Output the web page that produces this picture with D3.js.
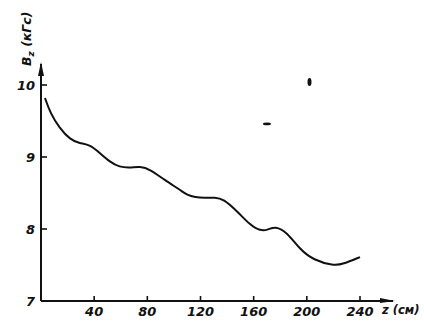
<!DOCTYPE html>
<html><head><meta charset="utf-8">
<script src="https://cdn.jsdelivr.net/npm/d3@7"></script>
<style>body{margin:0;background:#fff}svg{display:block}</style>
</head><body>
<script>
const zValues = [3, 7, 14, 22, 29, 37, 44, 52, 59, 67, 74.5, 82, 93, 105, 110, 116, 123, 131, 137, 148, 157, 165, 171, 176, 185, 195, 205, 220, 227, 240];
const bValues = [9.82, 9.61, 9.40, 9.24, 9.19, 9.17, 9.06, 8.93, 8.86, 8.85, 8.87, 8.83, 8.68, 8.54, 8.47, 8.44, 8.43, 8.44, 8.42, 8.24, 8.06, 7.97, 7.99, 8.04, 7.96, 7.71, 7.57, 7.49, 7.51, 7.61];
const xTicks = [40, 80, 120, 160, 200, 240];
const yTicks = [7, 8, 9, 10];
const speckZ = [202, 170];
const speckB = [10.04, 9.46];

const W = 424, H = 321;
const svg = d3.select("body").append("svg").attr("width", W).attr("height", H);
const x = d3.scaleLinear().domain([0, 240]).range([41, 360]);
const y = d3.scaleLinear().domain([7, 10]).range([301, 85]);

const ink = "#111";
const g = svg.append("g");

// axes lines
g.append("line").attr("x1", x(0)).attr("x2", 393).attr("y1", y(7)).attr("y2", y(7))
  .attr("stroke", ink).attr("stroke-width", 2);
g.append("line").attr("x1", x(0)).attr("x2", x(0)).attr("y1", y(7)).attr("y2", 64)
  .attr("stroke", ink).attr("stroke-width", 2);
// arrows
g.append("path").attr("d", `M${x(0)},62 L${x(0)-3},76 L${x(0)+3},76 Z`).attr("fill", ink);
g.append("path").attr("d", `M395,${y(7)} L380,${y(7)-3} L380,${y(7)+2} Z`).attr("fill", ink);

// x ticks
g.selectAll(".xt").data(xTicks).join("line")
  .attr("x1", d => x(d)).attr("x2", d => x(d)).attr("y1", y(7)).attr("y2", y(7) - 5)
  .attr("stroke", ink).attr("stroke-width", 1.6);
g.selectAll(".xl").data(xTicks).join("text")
  .attr("x", d => x(d)).attr("y", 316).attr("text-anchor", "middle")
  .attr("font-family", "DejaVu Sans").attr("font-style", "italic").attr("font-weight", "bold").attr("font-size", 13)
  .attr("fill", ink).text(d => d);

// y ticks
g.selectAll(".yt").data(yTicks.filter(d => d > 7)).join("line")
  .attr("x1", x(0)).attr("x2", x(0) + 6).attr("y1", d => y(d)).attr("y2", d => y(d))
  .attr("stroke", ink).attr("stroke-width", 1.6);
g.selectAll(".yl").data(yTicks).join("text")
  .attr("x", 35).attr("y", d => y(d) + 5).attr("text-anchor", "end")
  .attr("font-family", "DejaVu Sans").attr("font-style", "italic").attr("font-weight", "bold").attr("font-size", 13)
  .attr("fill", ink).text(d => d);

// axis labels
const yl = svg.append("text").attr("transform", "translate(31,66) rotate(-90)")
  .attr("font-family", "DejaVu Sans").attr("font-style", "italic").attr("font-weight", "bold").attr("font-size", 12.5).attr("fill", ink);
yl.append("tspan").text("B");
yl.append("tspan").attr("font-size", 9).attr("dy", 3).text("z");
yl.append("tspan").attr("dy", -3).text(" (кГс)");

svg.append("text").attr("x", 382).attr("y", 314)
  .attr("font-family", "DejaVu Sans").attr("font-style", "italic").attr("font-weight", "bold").attr("font-size", 11.5).attr("fill", ink)
  .text("z (см)");

// curve
const pts = zValues.map((z, i) => [z, bValues[i]]);
svg.append("path").datum(pts)
  .attr("d", d3.line().x(d => x(d[0])).y(d => y(d[1])).curve(d3.curveBasis))
  .attr("fill", "none").attr("stroke", ink).attr("stroke-width", 2);

// specks
svg.selectAll(".sp").data(speckZ).join("ellipse")
  .attr("cx", d => x(d)).attr("cy", (d, i) => y(speckB[i]))
  .attr("rx", (d, i) => i === 0 ? 2 : 4).attr("ry", (d, i) => i === 0 ? 4 : 1.3)
  .attr("fill", ink);
</script>
</body></html>
